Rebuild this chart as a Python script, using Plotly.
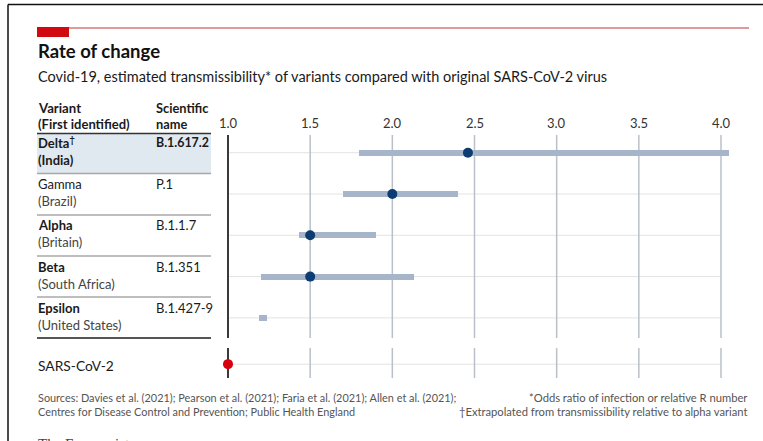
import plotly.graph_objects as go

# ---------------- data ----------------
variants = ["Delta", "Gamma", "Alpha", "Beta", "Epsilon"]
regions = ["India", "Brazil", "Britain", "South Africa", "United States"]
sci_names = ["B.1.617.2", "P.1", "B.1.1.7", "B.1.351", "B.1.427-9"]
low = [1.80, 1.70, 1.43, 1.20, 1.19]
high = [4.05, 2.40, 1.90, 2.13, 1.24]
central = [2.46, 2.00, 1.50, 1.50, None]
baseline_label = "SARS-CoV-2"
baseline_value = 1.0
tick_vals = [1.0, 1.5, 2.0, 2.5, 3.0, 3.5, 4.0]
tick_text = ["1.0", "1.5", "2.0", "2.5", "3.0", "3.5", "4.0"]

# ---------------- layout helpers ----------------
W, H = 763, 441
FONT = "Lato"
X0_PX, X1_PX = 228.0, 721.0          # pixel of 1.0 and 4.0
PPU = (X1_PX - X0_PX) / 3.0
ROW0_PX, PITCH = 152.7, 41.3
SARS_ROW = 5.12


def xv(px):
    return 1.0 + (px - X0_PX) / PPU


def yv(py):
    return (py - ROW0_PX) / PITCH


def PX(px):
    return px / W


def PY(py):
    return 1 - py / H


rows = list(range(len(variants)))

fig = go.Figure()

# bars (ranges)
fig.add_trace(go.Bar(
    orientation="h", y=rows, base=low,
    x=[h - l for h, l in zip(high, low)],
    width=6 / PITCH, marker=dict(color="#a7b5ca", line=dict(width=0)),
    hoverinfo="skip", showlegend=False))

# central estimates
fig.add_trace(go.Scatter(
    x=central, y=rows, mode="markers",
    marker=dict(size=10, color="#0b3d73"), showlegend=False, hoverinfo="skip"))

# baseline
fig.add_trace(go.Scatter(
    x=[baseline_value], y=[SARS_ROW], mode="markers",
    marker=dict(size=10, color="#d7000f"), showlegend=False, hoverinfo="skip", cliponaxis=False))

shapes = []
annotations = []

# horizontal row guide lines
for r in rows + [SARS_ROW]:
    shapes.append(dict(type="line", xref="x", yref="y", x0=tick_vals[0], x1=tick_vals[-1],
                       y0=r, y1=r, line=dict(color="#e3e3e3", width=1), layer="below"))

# vertical gridlines
for t in tick_vals:
    col = "#3a3a3a" if t == tick_vals[0] else "#b9c0c8"
    wd = 2 if t == tick_vals[0] else 1.5
    shapes.append(dict(type="line", xref="x", yref="y", x0=t, x1=t, y0=yv(135), y1=yv(338),
                       line=dict(color=col, width=wd), layer="below"))
    shapes.append(dict(type="line", xref="x", yref="y", x0=t, x1=t, y0=yv(348), y1=yv(378),
                       line=dict(color=col, width=wd), layer="below"))

# tick labels
for t, lab in zip(tick_vals, tick_text):
    annotations.append(dict(x=t, y=yv(123), xref="x", yref="y", text=lab, showarrow=False,
                            xanchor="center", yanchor="middle",
                            font=dict(family=FONT, size=13, color="#333")))

# table: delta shading
shapes.append(dict(type="rect", xref="paper", yref="paper", x0=PX(37), x1=PX(211),
                   y0=PY(134), y1=PY(173), fillcolor="#e0e8f0", line=dict(width=0), layer="below"))
# header underline
shapes.append(dict(type="line", xref="paper", yref="paper", x0=PX(37), x1=PX(211),
                   y0=PY(133.5), y1=PY(133.5), line=dict(color="#333", width=1.5)))
# row separators
for py in [173.5, 215, 256, 297]:
    shapes.append(dict(type="line", xref="paper", yref="paper", x0=PX(37), x1=PX(211),
                       y0=PY(py), y1=PY(py), line=dict(color="#a8a8a8", width=1.5)))
shapes.append(dict(type="line", xref="paper", yref="paper", x0=PX(37), x1=PX(211),
                   y0=PY(338), y1=PY(338), line=dict(color="#555", width=2)))


def txt(x, y, s, size=13, color="#1a1a1a", anchor="left", yanchor="middle", family=FONT):
    annotations.append(dict(x=PX(x), y=PY(y), xref="paper", yref="paper", text=s,
                            showarrow=False, xanchor=anchor, yanchor=yanchor,
                            font=dict(family=family, size=size, color=color)))


txt(36, 108, "<b>Variant</b>", size=13.2)
txt(36, 124, "<b>(First identified)</b>")
txt(154, 108, "<b>Scientific</b>", size=12.8)
txt(154, 124, "<b>name</b>", size=12.8)

bold_rows = [True, False, True, True, True]
for i, (v, reg, sn) in enumerate(zip(variants, regions, sci_names)):
    ry = ROW0_PX + PITCH * i
    if i == 0:
        name = "<b>%s<sup>†</sup></b>" % v
        sub = "<b>(%s)</b>" % reg
        sci = "<b>%s</b>" % sn
        subcol = "#1a1a1a"
        scisize = 12.4
    else:
        name = ("<b>%s</b>" % v) if bold_rows[i] else v
        sub = "(%s)" % reg
        sci = sn
        subcol = "#444"
        scisize = 13
    txt(36, ry - 10, name, color="#1a1a1a")
    txt(36, ry + 7, sub, color=subcol)
    txt(154, ry - 10, sci, size=scisize, color="#1a1a1a")

txt(36, 365, baseline_label, size=13.8, color="#1a1a1a")

# titles
txt(36, 51, "<b>Rate of change</b>", size=18.5, color="#111")
txt(36, 76, "Covid-19, estimated transmissibility* of variants compared with original SARS-CoV-2 virus",
    size=14.5, color="#1a1a1a")

# footer
txt(36, 397, "Sources: Davies et al. (2021); Pearson et al. (2021); Faria et al. (2021); Allen et al. (2021);",
    size=10.9, color="#555")
txt(36, 411, "Centres for Disease Control and Prevention; Public Health England", size=10.9, color="#555")
txt(749, 397, "*Odds ratio of infection or relative R number", size=11.2, color="#555", anchor="right")
txt(749, 411, "†Extrapolated from transmissibility relative to alpha variant", size=11.2, color="#555",
    anchor="right")
txt(36, 434, "The Economist", size=15, color="#444", yanchor="top", family="Liberation Serif")

# red header rule
shapes.append(dict(type="line", xref="paper", yref="paper", x0=PX(37), x1=PX(749),
                   y0=PY(28), y1=PY(28), line=dict(color="#d27a7a", width=1.5)))
shapes.append(dict(type="rect", xref="paper", yref="paper", x0=PX(37), x1=PX(69),
                   y0=PY(27), y1=PY(37), fillcolor="#d00a10", line=dict(width=0)))

# frame
shapes.append(dict(type="line", xref="paper", yref="paper", x0=PX(8), x1=1.0,
                   y0=PY(4.5), y1=PY(4.5), line=dict(color="#111", width=1.5)))
shapes.append(dict(type="line", xref="paper", yref="paper", x0=PX(8), x1=PX(8),
                   y0=PY(4.5), y1=0, line=dict(color="#111", width=1.5)))

fig.update_layout(
    width=W, height=H, autosize=False,
    margin=dict(l=0, r=0, t=0, b=0),
    paper_bgcolor="white", plot_bgcolor="white",
    xaxis=dict(domain=[0, 1], range=[xv(0), xv(W)], visible=False, fixedrange=True),
    yaxis=dict(domain=[0, 1], range=[yv(H), yv(0)], visible=False, fixedrange=True),
    shapes=shapes, annotations=annotations, bargap=0,
    font=dict(family=FONT),
)

fig.write_html(
    "out.html",
    config={"displayModeBar": False},
    post_script="document.body.style.margin='0';document.body.style.overflow='hidden';",
)
